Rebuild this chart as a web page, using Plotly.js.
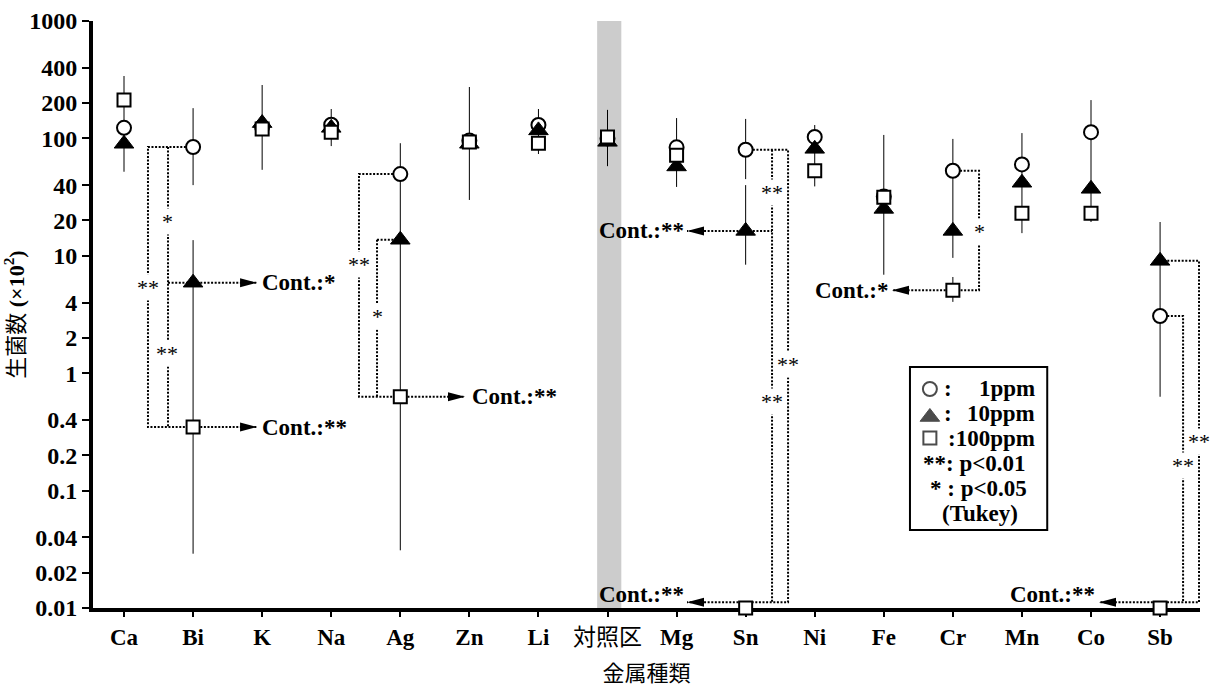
<!DOCTYPE html>
<html><head><meta charset="utf-8">
<script src="https://cdn.plot.ly/plotly-3.0.1.min.js"></script>
<style>html,body{margin:0;padding:0;background:#fff;} #chart{width:1212px;height:688px;}</style>
</head><body><div id="chart"></div>
<script>
// ---------- data ----------
const categories = ['Ca','Bi','K','Na','Ag','Zn','Li','対照区','Mg','Sn','Ni','Fe','Cr','Mn','Co','Sb'];
const yTickVals = [0.01,0.02,0.04,0.1,0.2,0.4,1,2,4,10,20,40,100,200,400,1000];
const yTickText = ['0.01','0.02','0.04','0.1','0.2','0.4','1','2','4','10','20','40','100','200','400','1000'];

// 1 ppm (circle)
const ppm1   = [123, 84.5, 125, 131, 49.7, 96, 130, 100, 84, 80, 103, 32, 53, 60, 113, 3.07];
const ppm1Hi = [null, 181, null, null, 91, null, null, null, null, 146.5, null, null, 99, null, null, null];
const ppm1Lo = [null, 40, null, null, 13.7, null, null, null, null, 45, null, null, 16.3, null, null, 0.63];
// 10 ppm (triangle)
const ppm10   = [90, 5.9, 135, 123, 13.7, 90, 117, 93.5, 57.7, 16.3, 81.5, 25.1, 16.3, 41.9, 37.2, 9.06];
const ppm10Hi = [123, 13.6, null, null, null, null, null, null, null, 40, null, null, null, null, null, 19.4];
const ppm10Lo = [52, 0.348, null, null, 0.63, null, null, null, null, 8.4, null, null, 9.6, null, null, 3.07];
// 100 ppm (square)
const ppm100   = [212, 0.348, 120, 113, 0.63, 93, 91, 103, 72, 0.01, 53, 31.5, 5.1, 23, 23, 0.01];
const ppm100Hi = [340, null, 285, 178, null, 274, 178, 175, 149, null, 130, 107, 6.6, 111, 212, null];
const ppm100Lo = [123, 0.029, 54, 86, 0.031, 29.9, 73.6, 58, 38.6, null, 39, 6.9, 4.05, 15.6, 19.4, null];

// ---------- helpers ----------
const xs = categories.map((_, i) => i);
const tickText = categories.map(c => /^[A-Za-z]+$/.test(c) ? '<b>' + c + '</b>' : c);
const L = v => Math.log10(v);
const errOf = (v, hi, lo) => ({
  type: 'data', symmetric: false,
  array: v.map((y, i) => hi[i] == null ? 0 : hi[i] - y),
  arrayminus: v.map((y, i) => lo[i] == null ? 0 : y - lo[i]),
  color: '#000', thickness: 1, width: 0
});
const serif = "'Liberation Serif', 'Noto Sans CJK JP', serif";
const cjk = "'Noto Sans CJK JP', sans-serif";

const c = ppm1, t = ppm10, s = ppm100;

const errTraces = [[c, ppm1Hi, ppm1Lo], [t, ppm10Hi, ppm10Lo], [s, ppm100Hi, ppm100Lo]].map(([v, hi, lo]) => ({
  type: 'scatter', mode: 'markers', x: xs, y: v,
  marker: {size: 2, opacity: 0}, error_y: errOf(v, hi, lo), hoverinfo: 'skip', cliponaxis: false
}));

// significance brackets (dotted)
const dotX = [], dotY = [];
function poly(px, py) { dotX.push(...px, null); dotY.push(...py, null); }
const fl9 = s[9] * 1.12, fl15 = s[15] * 1.12;
// Bi
poly([1, 0.347, 0.347, 1], [c[1], c[1], s[1], s[1]]);
poly([0.637, 0.637], [c[1], s[1]]);
poly([0.637, 1], [t[1], t[1]]);
poly([1, 1.926], [t[1], t[1]]);
poly([1, 1.926], [s[1], s[1]]);
// Ag
poly([4, 3.402, 3.402, 4], [c[4], c[4], s[4], s[4]]);
poly([3.663, 3.663], [t[4], s[4]]);
poly([3.663, 4], [t[4], t[4]]);
poly([4, 4.937], [s[4], s[4]]);
// Sn
poly([9, 9.614, 9.614, 9], [c[9], c[9], fl9, fl9]);
poly([9.382, 9.382], [c[9], fl9]);
poly([9, 9.382], [t[9], t[9]]);
poly([9, 8.151], [t[9], t[9]]);
poly([9, 8.151], [fl9, fl9]);
// Cr
poly([12, 12.379, 12.379, 12], [c[12], c[12], s[12], s[12]]);
poly([12, 11.119], [s[12], s[12]]);
// Sb
poly([15, 15.564, 15.564, 15], [t[15], t[15], fl15, fl15]);
poly([15, 15.333, 15.333], [c[15], c[15], fl15]);
poly([15, 14.116], [fl15, fl15]);

const dotTrace = {
  type: 'scatter', mode: 'lines', x: dotX, y: dotY, connectgaps: false,
  line: {color: '#000', width: 2, dash: '2px,1.6px'}, hoverinfo: 'skip'
};

const markerTraces = [
  {x: xs, y: c, marker: {symbol: 'circle', size: 14, color: '#fff', line: {color: '#000', width: 2}}},
  {x: xs, y: t, marker: {symbol: 'triangle-up', size: 17, color: '#000', line: {color: '#000', width: 1}}},
  {x: xs, y: s, marker: {symbol: 'square', size: 13, color: '#fff', line: {color: '#000', width: 2}}}
].map(o => Object.assign({type: 'scatter', mode: 'markers', cliponaxis: false, hoverinfo: 'skip'}, o));

const legendSym = {
  type: 'scatter', mode: 'markers', xaxis: 'x2', yaxis: 'y2', cliponaxis: false, hoverinfo: 'skip',
  x: [0.756, 0.756, 0.756], y: [0.3731, 0.3254, 0.2896],
  marker: {
    symbol: ['circle', 'triangle-up', 'square'], size: [14, 17, 13],
    color: ['#fff', '#000', '#fff'], line: {color: '#000', width: [2, 1, 2]}
  }
};

function head(xTip, yVal, dir) {
  return {type: 'path', xref: 'x', yref: 'y', xsizemode: 'pixel', ysizemode: 'pixel',
    xanchor: xTip, yanchor: yVal,
    path: dir > 0 ? 'M0,0L-17,4.5L-17,-4.5Z' : 'M0,0L17,4.5L17,-4.5Z',
    fillcolor: '#000', line: {width: 0}, layer: 'above'};
}
const shapes = [
  {type: 'rect', xref: 'x', yref: 'paper', x0: 6.85, x1: 7.2, y0: 0, y1: 1, fillcolor: '#cccccc', line: {width: 0}, layer: 'below'},
  {type: 'rect', xref: 'paper', yref: 'paper', x0: 0.738, x1: 0.862, y0: 0.133, y1: 0.4106, line: {color: '#000', width: 2}, fillcolor: 'rgba(0,0,0,0)'},
  head(1.926, t[1], 1), head(1.926, s[1], 1), head(4.937, s[4], 1),
  head(8.151, t[9], -1), head(8.151, fl9, -1), head(11.119, s[12], -1), head(14.116, fl15, -1)
];

const contFont = {family: serif, size: 23, color: '#000'};
function cont(x, y, txt, anchor) {
  return {x: x, y: y, xref: 'x', yref: 'y', text: '<b>' + txt + '</b>', showarrow: false, xanchor: anchor, yanchor: 'middle', font: contFont};
}
function sig(x, y, txt) {
  return {x: x, y: y, xref: 'x', yref: 'y', text: txt, showarrow: false, xanchor: 'center', yanchor: 'middle',
    bgcolor: '#fff', borderpad: 0, font: {family: serif, size: 22, color: '#000'}};
}
function leg(x, y, txt, anchor) {
  return {x: x, y: y, xref: 'paper', yref: 'paper', text: '<b>' + txt + '</b>', showarrow: false, xanchor: anchor, yanchor: 'middle',
    font: {family: serif, size: 23, color: '#000'}};
}
const annotations = [
  cont(1.97, L(t[1]), 'Cont.:*', 'left'),
  cont(1.97, L(s[1]), 'Cont.:**', 'left'),
  cont(5.01, L(s[4]), 'Cont.:**', 'left'),
  cont(8.13, L(t[9]), 'Cont.:**', 'right'),
  cont(8.13, -1.889, 'Cont.:**', 'right'),
  cont(11.09, L(s[12]), 'Cont.:*', 'right'),
  cont(14.087, -1.889, 'Cont.:**', 'right'),
  sig(0.347, 0.734, '**'), sig(0.623, 1.288, '*'), sig(0.62, 0.164, '**'),
  sig(3.402, 0.930, '**'), sig(3.663, 0.487, '*'),
  sig(9.382, 1.535, '**'), sig(9.382, -0.245, '**'), sig(9.614, 0.078, '**'),
  sig(12.379, 1.211, '*'),
  sig(15.333, -0.790, '**'), sig(15.564, -0.578, '**'),
  leg(0.7726, 0.3731, ':', 'center'), leg(0.8529, 0.3731, '1ppm', 'right'),
  leg(0.7726, 0.3305, ':', 'center'), leg(0.8529, 0.3305, '10ppm', 'right'),
  leg(0.8529, 0.2896, ':100ppm', 'right'),
  leg(0.796, 0.247, '**: p&lt;0.01', 'center'),
  leg(0.7996, 0.2044, '* : p&lt;0.05', 'center'),
  leg(0.8014, 0.1618, '(Tukey)', 'center')
];

const layout = {
  width: 1212, height: 688, margin: {l: 93, r: 12, t: 21, b: 80},
  paper_bgcolor: '#fff', plot_bgcolor: '#fff', showlegend: false,
  font: {family: serif, color: '#000'},
  xaxis: {
    range: [-0.449, 15.578], tickmode: 'array', tickvals: xs, ticktext: tickText,
    showline: true, linewidth: 4, linecolor: '#000', mirror: false,
    ticks: 'outside', ticklen: 5, tickwidth: 2, tickcolor: '#000',
    showgrid: false, zeroline: false, layer: 'below traces',
    tickfont: {family: serif, size: 23, color: '#000'},
    title: {text: '金属種類', font: {family: cjk, size: 22, color: '#000'}, standoff: 18}
  },
  yaxis: {
    type: 'log', range: [-2, 3], tickmode: 'array', tickvals: yTickVals,
    ticktext: yTickText.map(v => '<b>' + v + '</b>'),
    showline: true, linewidth: 4, linecolor: '#000',
    ticks: 'outside', ticklen: 7, tickwidth: 2, tickcolor: '#000',
    showgrid: false, zeroline: false, layer: 'below traces',
    tickfont: {family: serif, size: 24, color: '#000'},
    title: {text: '生菌数 <b>(×10<sup>2</sup>)</b>', font: {family: serif, size: 22, color: '#000'}, standoff: 0}
  },
  xaxis2: {overlaying: 'x', range: [0, 1], visible: false, fixedrange: true},
  yaxis2: {overlaying: 'y', range: [0, 1], visible: false, fixedrange: true},
  shapes: shapes, annotations: annotations
};

Plotly.newPlot('chart', [...errTraces, dotTrace, ...markerTraces, legendSym], layout, {displayModeBar: false, staticPlot: true});
</script>
</body></html>
